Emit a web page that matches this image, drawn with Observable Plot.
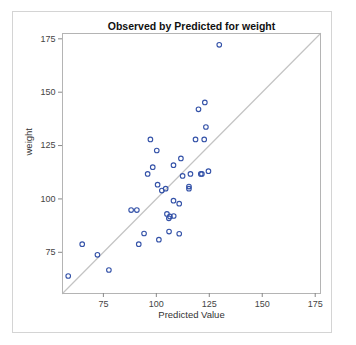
<!DOCTYPE html>
<html>
<head>
<meta charset="utf-8">
<script src="https://cdn.jsdelivr.net/npm/d3@7"></script>
<script src="https://cdn.jsdelivr.net/npm/@observablehq/plot@0.6"></script>
<style>
  html, body { margin: 0; padding: 0; background: #fff; }
  #chart svg { display: block; }
</style>
</head>
<body>
<div id="chart"></div>
<script>
const title = "Observed by Predicted for weight";
const xLabel = "Predicted Value";
const yLabel = "weight";
const ticks = [75, 100, 125, 150, 175];
const domain = [55.7, 177.5];

const predicted = [129.7, 122.9, 119.9, 123.4, 97.2, 118.5, 122.6, 100.2, 111.6, 98.3,
  108.1, 95.9, 116.1, 121.0, 121.5, 124.6, 112.4, 100.6, 104.4, 102.6,
  115.4, 115.4, 108.1, 110.8, 88.1, 90.8, 105.0, 106.4, 108.2, 105.9,
  94.2, 106.0, 110.8, 101.2, 65.0, 91.7, 72.2, 77.6, 58.4];
const observed = [172.2, 145.2, 142.0, 133.7, 127.9, 127.9, 127.9, 122.7, 119.0, 114.9,
  115.8, 111.7, 111.7, 111.7, 111.7, 113.0, 110.8, 106.7, 104.8, 103.9,
  105.8, 104.8, 99.2, 97.8, 94.8, 94.8, 93.0, 91.8, 92.0, 90.9,
  83.8, 84.7, 83.7, 80.9, 78.8, 78.8, 73.8, 66.7, 63.9];

const data = predicted.map((p, i) => ({p, o: observed[i]}));
const diag = [{a: domain[0]}, {a: domain[1]}];

const font = "'Liberation Sans', Arial, sans-serif";

const plot = Plot.plot({
  width: 356,
  height: 345,
  marginLeft: 62,
  marginRight: 36,
  marginTop: 33,
  marginBottom: 52,
  style: {fontFamily: font, fontSize: "9px", color: "#444", background: "#fff"},
  x: {domain, ticks, tickSize: 4, tickPadding: 3, label: null},
  y: {domain, ticks, tickSize: 4, tickPadding: 3, label: null},
  marks: [
    Plot.line(diag, {x: "a", y: "a", stroke: "#c4c4c4", strokeWidth: 1.2}),
    Plot.dot(data, {x: "p", y: "o", r: 2.3, stroke: "#3452a8", strokeWidth: 1.1, fill: "none"}),
    Plot.frame({stroke: "#b4b4b4", strokeWidth: 1}),
    Plot.axisX({ticks, tickSize: 4, tickPadding: 3, stroke: "#888", label: null}),
    Plot.axisY({ticks, tickSize: 4, tickPadding: 3, stroke: "#888", label: null}),
    Plot.text([xLabel], {frameAnchor: "bottom", dy: 24, fontSize: 9.5, fill: "#333"}),
    Plot.text([yLabel], {frameAnchor: "left", dx: -34, dy: -8, rotate: -90, fontSize: 9.5, fill: "#333"}),
    Plot.text([title], {frameAnchor: "top", dy: -11, fontSize: 10.5, fontWeight: "bold", fill: "#111"})
  ]
});

const svg = d3.select(plot);
svg.insert("rect", ":first-child")
  .attr("x", 12.5).attr("y", 11.5).attr("width", 319).attr("height", 321)
  .attr("fill", "none").attr("stroke", "#d4d4d4");
document.getElementById("chart").appendChild(plot);
</script>
</body>
</html>
